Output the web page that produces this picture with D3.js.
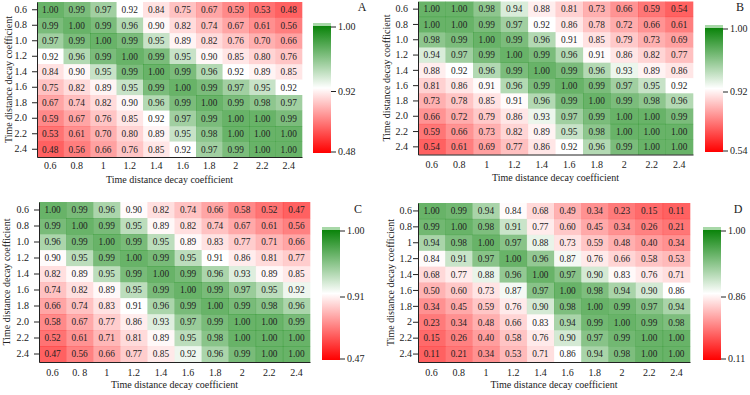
<!DOCTYPE html>
<html>
<head>
<meta charset="utf-8">
<script src="https://cdn.jsdelivr.net/npm/d3@7"></script>
<style>
  body { margin: 0; background: #fff; }
  svg, svg text { font-family: "Liberation Serif", "DejaVu Serif", serif; }
  .axis text { font-size: 10px; fill: #222; font-family: "Liberation Serif", serif; }
  .axis path, .axis line { stroke: #222; }
  .cell-label { font-size: 9.3px; fill: #222; }
  .axis-title { font-size: 10px; fill: #222; }
  .panel-tag { font-size: 12px; fill: #222; }
</style>
</head>
<body>
<div id="chart"></div>
<script>
// tick labels
const xLabels = ["0.6", "0.8", "1", "1.2", "1.4", "1.6", "1.8", "2", "2.2", "2.4"];
const xLabelsC = ["0.6", "0. 8", "1", "1.2", "1.4", "1.6", "1.8", "2", "2.2", "2.4"];
const yLabels = ["0.6", "0.8", "1.0", "1.2", "1.4", "1.6", "1.8", "2.0", "2.2", "2.4"];
const yLabelsD = ["0.6", "0.8", "1", "1.2", "1.4", "1.6", "1.8", "2", "2.2", "2.4"];

// one row per y label, one value per x label
const valuesA = [
  [1.00, 0.99, 0.97, 0.92, 0.84, 0.75, 0.67, 0.59, 0.53, 0.48],
  [0.99, 1.00, 0.99, 0.96, 0.90, 0.82, 0.74, 0.67, 0.61, 0.56],
  [0.97, 0.99, 1.00, 0.99, 0.95, 0.89, 0.82, 0.76, 0.70, 0.66],
  [0.92, 0.96, 0.99, 1.00, 0.99, 0.95, 0.90, 0.85, 0.80, 0.76],
  [0.84, 0.90, 0.95, 0.99, 1.00, 0.99, 0.96, 0.92, 0.89, 0.85],
  [0.75, 0.82, 0.89, 0.95, 0.99, 1.00, 0.99, 0.97, 0.95, 0.92],
  [0.67, 0.74, 0.82, 0.90, 0.96, 0.99, 1.00, 0.99, 0.98, 0.97],
  [0.59, 0.67, 0.76, 0.85, 0.92, 0.97, 0.99, 1.00, 1.00, 0.99],
  [0.53, 0.61, 0.70, 0.80, 0.89, 0.95, 0.98, 1.00, 1.00, 1.00],
  [0.48, 0.56, 0.66, 0.76, 0.85, 0.92, 0.97, 0.99, 1.00, 1.00]
];
const valuesB = [
  [1.00, 1.00, 0.98, 0.94, 0.88, 0.81, 0.73, 0.66, 0.59, 0.54],
  [1.00, 1.00, 0.99, 0.97, 0.92, 0.86, 0.78, 0.72, 0.66, 0.61],
  [0.98, 0.99, 1.00, 0.99, 0.96, 0.91, 0.85, 0.79, 0.73, 0.69],
  [0.94, 0.97, 0.99, 1.00, 0.99, 0.96, 0.91, 0.86, 0.82, 0.77],
  [0.88, 0.92, 0.96, 0.99, 1.00, 0.99, 0.96, 0.93, 0.89, 0.86],
  [0.81, 0.86, 0.91, 0.96, 0.99, 1.00, 0.99, 0.97, 0.95, 0.92],
  [0.73, 0.78, 0.85, 0.91, 0.96, 0.99, 1.00, 0.99, 0.98, 0.96],
  [0.66, 0.72, 0.79, 0.86, 0.93, 0.97, 0.99, 1.00, 1.00, 0.99],
  [0.59, 0.66, 0.73, 0.82, 0.89, 0.95, 0.98, 1.00, 1.00, 1.00],
  [0.54, 0.61, 0.69, 0.77, 0.86, 0.92, 0.96, 0.99, 1.00, 1.00]
];
const valuesC = [
  [1.00, 0.99, 0.96, 0.90, 0.82, 0.74, 0.66, 0.58, 0.52, 0.47],
  [0.99, 1.00, 0.99, 0.95, 0.89, 0.82, 0.74, 0.67, 0.61, 0.56],
  [0.96, 0.99, 1.00, 0.99, 0.95, 0.89, 0.83, 0.77, 0.71, 0.66],
  [0.90, 0.95, 0.99, 1.00, 0.99, 0.95, 0.91, 0.86, 0.81, 0.77],
  [0.82, 0.89, 0.95, 0.99, 1.00, 0.99, 0.96, 0.93, 0.89, 0.85],
  [0.74, 0.82, 0.89, 0.95, 0.99, 1.00, 0.99, 0.97, 0.95, 0.92],
  [0.66, 0.74, 0.83, 0.91, 0.96, 0.99, 1.00, 0.99, 0.98, 0.96],
  [0.58, 0.67, 0.77, 0.86, 0.93, 0.97, 0.99, 1.00, 1.00, 0.99],
  [0.52, 0.61, 0.71, 0.81, 0.89, 0.95, 0.98, 1.00, 1.00, 1.00],
  [0.47, 0.56, 0.66, 0.77, 0.85, 0.92, 0.96, 0.99, 1.00, 1.00]
];
const valuesD = [
  [1.00, 0.99, 0.94, 0.84, 0.68, 0.49, 0.34, 0.23, 0.15, 0.11],
  [0.99, 1.00, 0.98, 0.91, 0.77, 0.60, 0.45, 0.34, 0.26, 0.21],
  [0.94, 0.98, 1.00, 0.97, 0.88, 0.73, 0.59, 0.48, 0.40, 0.34],
  [0.84, 0.91, 0.97, 1.00, 0.96, 0.87, 0.76, 0.66, 0.58, 0.53],
  [0.68, 0.77, 0.88, 0.96, 1.00, 0.97, 0.90, 0.83, 0.76, 0.71],
  [0.50, 0.60, 0.73, 0.87, 0.97, 1.00, 0.98, 0.94, 0.90, 0.86],
  [0.34, 0.45, 0.59, 0.76, 0.90, 0.98, 1.00, 0.99, 0.97, 0.94],
  [0.23, 0.34, 0.48, 0.66, 0.83, 0.94, 0.99, 1.00, 0.99, 0.98],
  [0.15, 0.26, 0.40, 0.58, 0.76, 0.90, 0.97, 0.99, 1.00, 1.00],
  [0.11, 0.21, 0.34, 0.53, 0.71, 0.86, 0.94, 0.98, 1.00, 1.00]
];

// legend ticks: [min, middle, max]
const legendA = [0.48, 0.92, 1.00];
const legendB = [0.54, 0.92, 1.00];
const legendC = [0.47, 0.91, 1.00];
const legendD = [0.11, 0.86, 1.00];

const panelTags = ["A", "B", "C", "D"];
const axisTitle = "Time distance decay coefficient";

const RED = "#ff0000", WHITE = "#ffffff", GREEN = "#0b840b";

var svg = d3.select("#chart").append("svg")
  .attr("width", 750)
  .attr("height", 395);

var defs = svg.append("defs");

// layout for each panel (heatmap box, legend bar, tag, title positions)
var panels = [
  { tag: panelTags[0], values: valuesA, legend: legendA, xl: xLabels, yl: yLabels,
    x0: 37, y0: 2, x1: 302, y1: 157, lx: 313, ly0: 23, ly1: 153, tx: 362, ty: 11, ytx: 8, ypad: 5, xpad: 5 },
  { tag: panelTags[1], values: valuesB, legend: legendB, xl: xLabels, yl: yLabels,
    x0: 418, y0: 1.5, x1: 693, y1: 154.5, lx: 705, ly0: 25, ly1: 152, tx: 740, ty: 11, ytx: 386, ypad: 5, xpad: 6 },
  { tag: panelTags[2], values: valuesC, legend: legendC, xl: xLabelsC, yl: yLabels,
    x0: 39, y0: 202, x1: 310, y1: 362, lx: 322, ly0: 227, ly1: 360, tx: 358, ty: 213, ytx: 6, ypad: 5, xpad: 7 },
  { tag: panelTags[3], values: valuesD, legend: legendD, xl: xLabels, yl: yLabelsD,
    x0: 418, y0: 203, x1: 690, y1: 362, lx: 703, ly0: 227, ly1: 360, tx: 738, ty: 213, ytx: 390, ypad: 1, xpad: 7 }
];

panels.forEach(function (p) {
  var g = svg.append("g");

  var x = d3.scaleBand()
    .domain(d3.range(p.xl.length))
    .range([p.x0, p.x1]);

  var y = d3.scaleBand()
    .domain(d3.range(p.yl.length))
    .range([p.y0, p.y1]);

  var color = d3.scaleLinear()
    .domain(p.legend)
    .range([RED, WHITE, GREEN])
    .clamp(true);

  var cells = [];
  p.values.forEach(function (row, i) {
    row.forEach(function (v, j) {
      cells.push({ row: i, col: j, value: v });
    });
  });

  g.selectAll(".cell")
    .data(cells)
    .enter().append("rect")
    .attr("class", "cell")
    .attr("x", function (d) { return x(d.col); })
    .attr("y", function (d) { return y(d.row); })
    .attr("width", x.bandwidth() + 0.3)
    .attr("height", y.bandwidth() + 0.3)
    .style("fill", function (d) { return color(d.value); })
    .style("fill-opacity", 0.62);

  g.selectAll(".cell-label")
    .data(cells)
    .enter().append("text")
    .attr("class", "cell-label")
    .attr("x", function (d) { return x(d.col) + x.bandwidth() / 2; })
    .attr("y", function (d) { return y(d.row) + y.bandwidth() / 2; })
    .attr("text-anchor", "middle")
    .attr("dy", "0.35em")
    .text(function (d) { return d3.format(".2f")(d.value); });

  var xAxis = d3.axisBottom(x)
    .tickSize(0)
    .tickPadding(p.xpad)
    .tickFormat(function (i) { return p.xl[i]; });

  g.append("g")
    .attr("class", "x axis")
    .attr("transform", "translate(0," + p.y1 + ")")
    .call(xAxis);

  var yAxis = d3.axisLeft(y)
    .tickSizeInner(5)
    .tickSizeOuter(0)
    .tickPadding(p.ypad)
    .tickFormat(function (i) { return p.yl[i]; });

  g.append("g")
    .attr("class", "y axis")
    .attr("transform", "translate(" + p.x0 + ",0)")
    .call(yAxis);

  svg.selectAll(".axis").attr("font-family", null);

  // axis titles
  g.append("text")
    .attr("class", "axis-title")
    .attr("x", (p.x0 + p.x1) / 2)
    .attr("y", p.y1 + 26)
    .attr("text-anchor", "middle")
    .text(axisTitle);

  g.append("text")
    .attr("class", "axis-title")
    .attr("transform", "translate(" + p.ytx + "," + ((p.y0 + p.y1) / 2) + ") rotate(-90)")
    .attr("text-anchor", "middle")
    .attr("dy", "0.35em")
    .text(axisTitle);

  // legend bar: green at top, white in the middle, red at the bottom
  var gradId = "grad" + p.tag;
  var grad = defs.append("linearGradient")
    .attr("id", gradId)
    .attr("x1", 0).attr("y1", 0)
    .attr("x2", 0).attr("y2", 1);
  grad.append("stop").attr("offset", "0%").attr("stop-color", "#a8d8a8");
  grad.append("stop").attr("offset", "2%").attr("stop-color", "#a8d8a8");
  grad.append("stop").attr("offset", "2.5%").attr("stop-color", GREEN);
  grad.append("stop").attr("offset", "50%").attr("stop-color", WHITE);
  grad.append("stop").attr("offset", "100%").attr("stop-color", RED);

  var lw = 18;
  g.append("rect")
    .attr("x", p.lx)
    .attr("y", p.ly0)
    .attr("width", lw)
    .attr("height", p.ly1 - p.ly0)
    .style("fill", "url(#" + gradId + ")");

  var ls = d3.scaleLinear()
    .domain(p.legend)
    .range([p.ly1 - 1.5, (p.ly0 + p.ly1) / 2 + 3, p.ly0 + 3.5]);

  var lAxis = d3.axisRight(ls)
    .tickValues(p.legend)
    .tickSize(5)
    .tickPadding(2)
    .tickFormat(d3.format(".2f"));

  g.append("g")
    .attr("class", "legend axis")
    .attr("transform", "translate(" + (p.lx + lw) + ",0)")
    .call(lAxis)
    .attr("font-family", null)
    .select(".domain").remove();

  g.append("text")
    .attr("class", "panel-tag")
    .attr("x", p.tx)
    .attr("y", p.ty)
    .attr("text-anchor", "middle")
    .text(p.tag);
});
</script>
</body>
</html>
